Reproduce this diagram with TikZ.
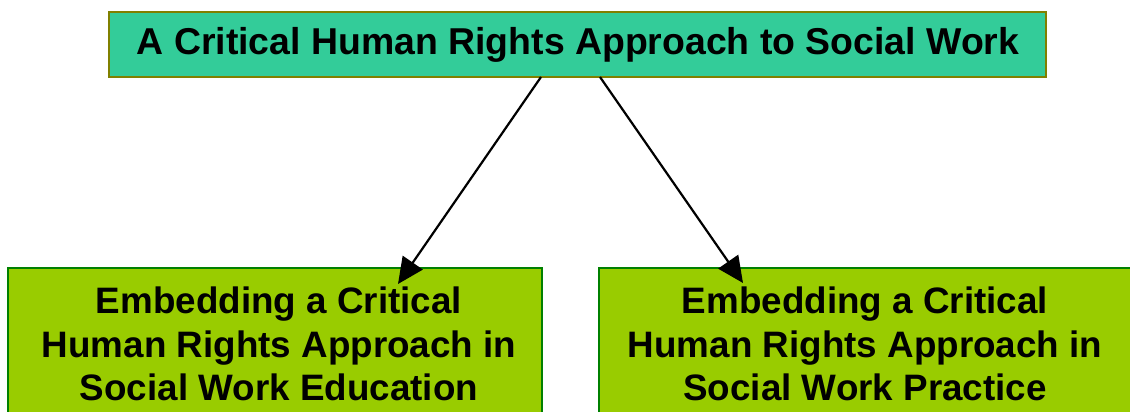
\documentclass[tikz,border=0pt]{standalone}
\usepackage{fontspec}
\setmainfont{Liberation Sans}
\usetikzlibrary{arrows.meta}
\definecolor{topfill}{HTML}{33CC99}
\definecolor{topdraw}{HTML}{808000}
\definecolor{botfill}{HTML}{99CC00}
\definecolor{botdraw}{HTML}{008000}
\begin{document}
\begin{tikzpicture}[x=1pt,y=-1pt,
  topbox/.style={fill=topfill,draw=topdraw,line width=2pt},
  botbox/.style={fill=botfill,draw=botdraw,line width=2pt},
  lbl/.style={font=\fontsize{36.8}{43.5}\selectfont\bfseries,align=center,inner sep=0pt},
  arr/.style={line width=2.2pt,-{Triangle[length=26pt,width=24pt]}}]
\useasboundingbox (0,0) rectangle (1130,412);
\clip (0,0) rectangle (1130,412);
\draw[topbox] (109,12) rectangle (1046,77);
\node[lbl,font=\fontsize{37.4}{44}\selectfont\bfseries] (top) at (578,45) {A Critical Human Rights Approach to Social Work};
\draw[botbox] (8,268) rectangle (542,430);
\draw[botbox] (599,268) rectangle (1140,430);
\node[lbl,anchor=north] (left) at (279,287) {Embedding a Critical\\Human Rights Approach in\\Social Work Education};
\node[lbl,anchor=north] (right) at (865,287) {Embedding a Critical\\Human Rights Approach in\\Social Work Practice};
\coordinate (s1) at (541,77);
\coordinate (s2) at (600,77);
\coordinate (t1) at (398,284);
\coordinate (t2) at (743,283);
\draw[arr] (s1) -- (t1);
\draw[arr] (s2) -- (t2);
\end{tikzpicture}
\end{document}
